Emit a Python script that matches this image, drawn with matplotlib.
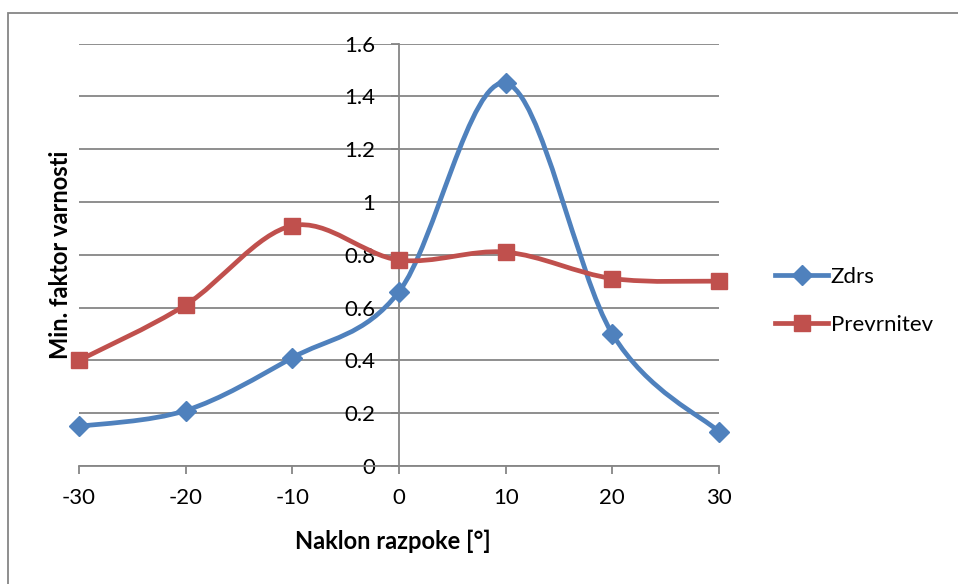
import matplotlib.pyplot as plt
import numpy as np
from matplotlib.path import Path
from matplotlib.patches import PathPatch, Rectangle
from matplotlib.lines import Line2D

plt.rcParams['font.family'] = ['Lato', 'DejaVu Sans']

naklon = [-30, -20, -10, 0, 10, 20, 30]
zdrs = [0.15, 0.21, 0.41, 0.66, 1.45, 0.50, 0.13]
prevrnitev = [0.40, 0.61, 0.91, 0.78, 0.81, 0.71, 0.70]

blue = '#4F81BD'
red = '#C0504D'
grey = '#868686'


def smooth_path(x, y):
    # bezier spline through the points, same style as spreadsheet "smoothed line"
    pts = np.column_stack([x, y]).astype(float)
    n = len(pts)
    verts = [pts[0]]
    codes = [Path.MOVETO]
    for i in range(n - 1):
        p_prev = pts[i - 1] if i > 0 else pts[i]
        p_next2 = pts[i + 2] if i + 2 < n else pts[i + 1]
        c1 = pts[i] + (pts[i + 1] - p_prev) / 6
        c2 = pts[i + 1] - (p_next2 - pts[i]) / 6
        verts += [c1, c2, pts[i + 1]]
        codes += [Path.CURVE4] * 3
    return Path(verts, codes)


fig = plt.figure(figsize=(9.58, 5.84), dpi=100)
ax = fig.add_axes([79 / 958, 1 - 466 / 584, 640 / 958, 422.5 / 584])

for vals, col, mk, ms in [(zdrs, blue, 'D', 10), (prevrnitev, red, 's', 11)]:
    ax.add_patch(PathPatch(smooth_path(naklon, vals), facecolor='none',
                           edgecolor=col, lw=3.4, capstyle='round', zorder=3))
    ax.plot(naklon, vals, linestyle='none', marker=mk, ms=ms, color=col,
            clip_on=False, zorder=4)

ax.set_xlim(-30, 30)
ax.set_ylim(0, 1.6)
ax.set_xticks(naklon)
ax.set_yticks(np.arange(0, 1.61, 0.2))
ax.set_yticklabels(['0', '0.2', '0.4', '0.6', '0.8', '1', '1.2', '1.4', '1.6'])
ax.set_xticklabels([str(v) for v in naklon])

ax.spines['top'].set_visible(False)
ax.spines['right'].set_visible(False)
ax.spines['left'].set_position(('data', 0))
for s in ['left', 'bottom']:
    ax.spines[s].set_color(grey)
    ax.spines[s].set_linewidth(1.3)
ax.yaxis.grid(True, color=grey, lw=1.3)
ax.set_axisbelow(True)

ax.tick_params(axis='both', colors=grey, labelcolor='black', labelsize=16,
               length=6, width=1.3, direction='out')
ax.tick_params(axis='y', pad=11)
ax.tick_params(axis='x', pad=10)

fig.text(60 / 958, 1 - 255 / 584, 'Min. faktor varnosti', rotation=90,
         ha='center', va='center', fontsize=17, fontweight='bold')
fig.text(393 / 958, 1 - 541 / 584, 'Naklon razpoke [°]',
         ha='center', va='center', fontsize=17, fontweight='bold')

handles = [Line2D([], [], color=blue, lw=3.4, marker='D', ms=10),
           Line2D([], [], color=red, lw=3.4, marker='s', ms=11)]
fig.legend(handles, ['Zdrs', 'Prevrnitev'], loc='center left',
           bbox_to_anchor=(755 / 958, 1 - 301 / 584), frameon=False,
           fontsize=16, handlelength=2.4, handletextpad=0.1, labelspacing=1.25)

fig.add_artist(Rectangle((8 / 958, -0.1), 1.2, 1 - 13 / 584 + 0.1,
                         transform=fig.transFigure, fill=False,
                         edgecolor=grey, lw=1.3))

fig.savefig('out.png', dpi=100)
